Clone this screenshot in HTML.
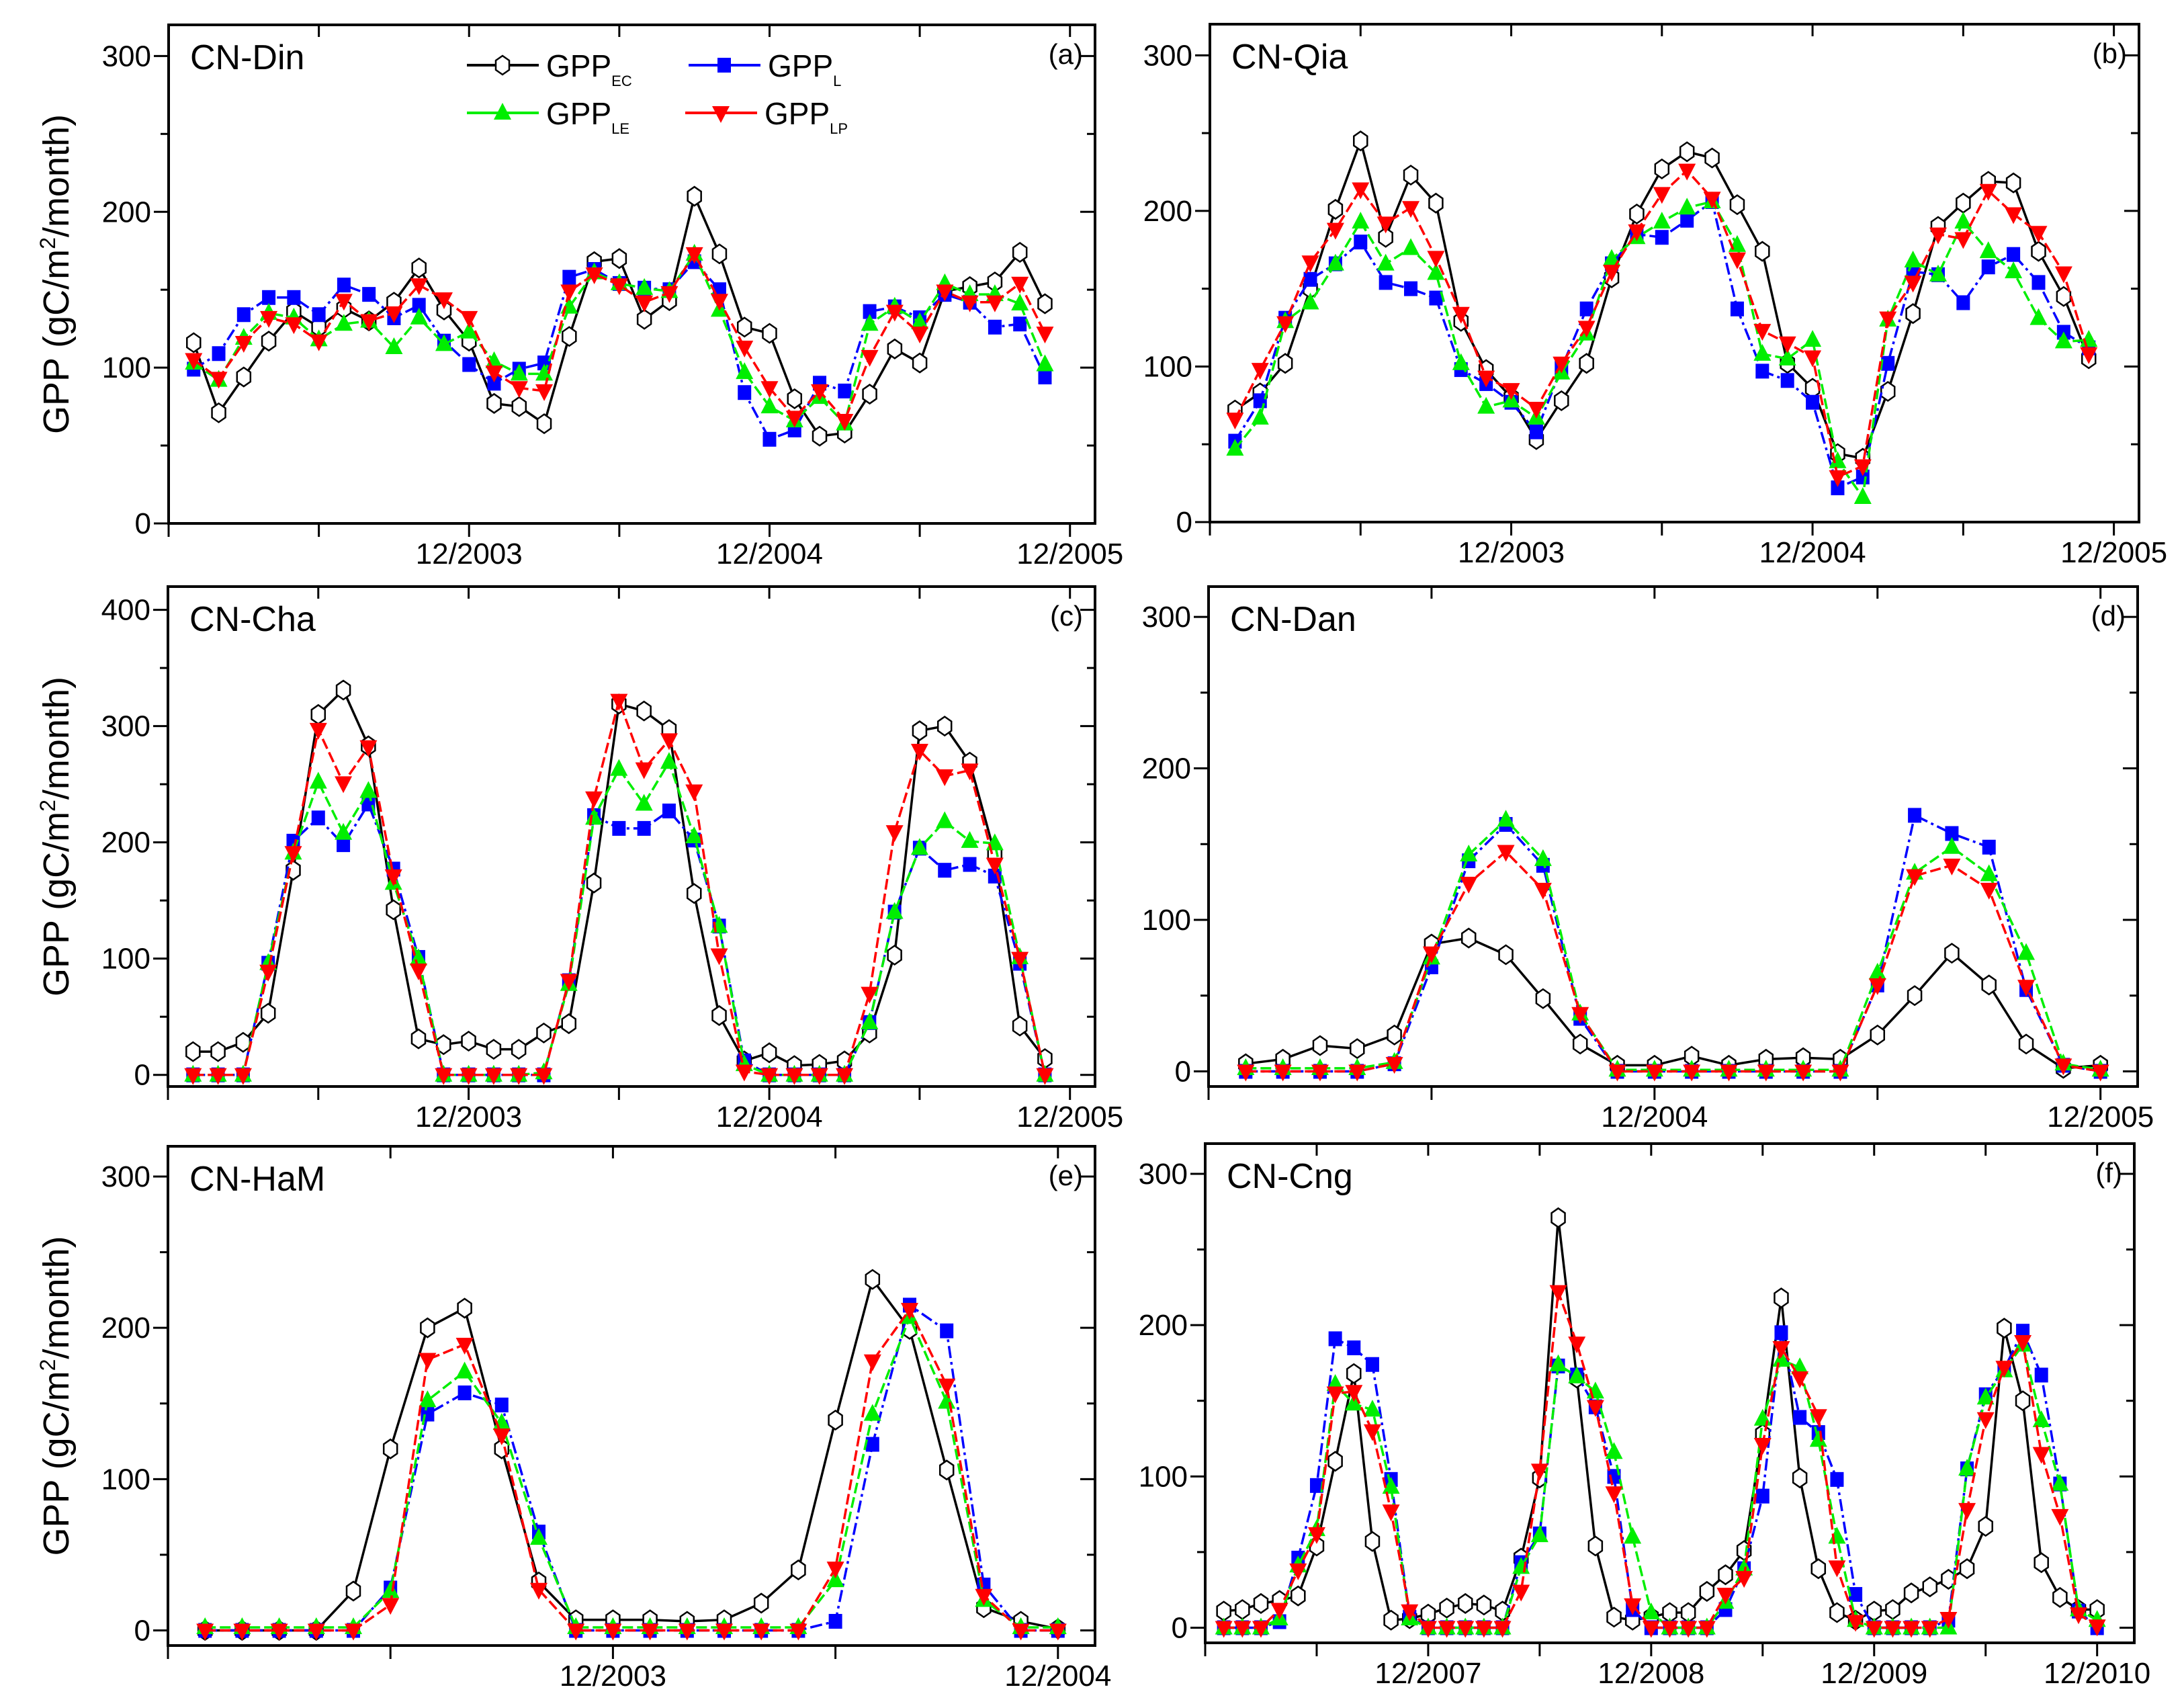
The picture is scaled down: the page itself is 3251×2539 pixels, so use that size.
<!DOCTYPE html>
<html><head><meta charset="utf-8"><style>
html,body{margin:0;padding:0;background:#fff;}
svg{display:block;}
text{font-family:"Liberation Sans Narrow","Liberation Sans",sans-serif;fill:#000;}
</style></head><body>
<svg id="chart" xmlns="http://www.w3.org/2000/svg" width="3251" height="2539" viewBox="0 0 3251 2539"></svg>
<script>
// ---- data (GPP, gC/m2/month) ----
const aEC=[116,71,94,117,136,126,138,130,142,164,137,117,77,75,64,120,168,170,131,143,210,173,126,122,80,56,58,83,112,103,149,152,155,174,141];
const aL =[99,109,134,145,145,134,153,147,132,140,117,102,90,99,103,158,163,154,151,150,168,150,84,54,60,90,85,136,139,132,147,142,126,128,94];
const aLE=[103,92,119,135,132,118,128,130,113,132,115,123,104,96,96,139,161,154,151,149,173,137,97,75,66,81,64,128,139,129,154,147,147,141,102];
const aLP=[105,93,116,132,128,117,143,130,135,153,144,132,97,87,85,149,160,153,142,148,173,143,113,87,68,85,66,107,136,122,149,142,142,154,122];
const bEC=[72,83,102,150,201,245,183,223,205,129,98,80,53,78,102,157,198,227,238,234,204,174,102,86,44,41,84,134,190,205,219,218,174,145,105];
const bL =[52,78,131,156,166,180,154,150,144,98,89,77,58,99,137,166,185,183,194,206,137,97,91,77,22,29,102,161,159,141,164,172,154,122,112];
const bLE=[47,67,129,141,166,193,166,176,160,102,74,78,67,96,121,169,183,193,202,206,178,108,105,117,39,16,130,168,159,193,174,161,131,116,117];
const bLP=[66,98,128,167,188,214,192,202,170,134,93,85,73,102,125,161,187,211,226,208,169,123,115,106,29,36,131,154,185,182,213,198,186,160,108];
const cEC=[20,20,28,53,176,310,331,283,142,31,26,29,22,22,36,44,165,319,313,297,156,51,12,19,8,9,12,36,103,296,300,269,190,42,14];
const cL =[0,0,0,96,201,221,198,233,177,101,0,0,0,0,0,81,223,212,212,227,202,128,12,0,0,0,0,45,140,195,176,181,171,96,0];
const cLE=[0,0,0,96,191,252,208,244,165,100,0,0,0,0,2,78,221,263,233,269,205,128,9,0,0,0,0,45,140,195,218,201,199,101,0];
const cLP=[0,0,0,89,191,297,251,282,171,90,0,0,0,0,0,81,238,322,263,288,244,103,3,0,0,0,0,70,209,279,257,262,181,100,0];
const dEC=[5,8,17,15,24,84,88,77,48,18,4,4,10,4,8,9,8,24,50,78,57,18,2,4];
const dL =[0,0,0,0,5,69,139,163,136,35,0,0,0,0,0,0,0,57,169,157,148,54,4,0];
const dLE=[2,2,2,2,6,75,143,166,140,38,1,1,1,1,1,1,1,65,131,148,130,78,5,1];
const dLP=[0,0,0,0,5,78,124,145,120,38,0,0,0,0,0,0,0,57,129,136,120,56,4,0];
const eEC=[0,0,0,0,26,120,200,213,120,32,7,7,7,6,7,18,40,139,232,199,106,15,6,1];
const eL =[0,0,0,0,0,28,143,157,149,65,0,0,0,0,0,0,0,6,123,215,198,30,0,0];
const eLE=[2,2,2,2,2,26,152,171,137,61,2,2,2,2,2,2,2,33,143,207,151,20,2,2];
const eLP=[0,0,0,0,0,17,179,189,129,27,0,0,0,0,0,0,0,41,178,212,162,23,0,0];
const fEC=[11,12,16,18,21,54,110,168,57,5,6,9,13,16,15,11,46,99,271,165,54,7,5,7,10,10,24,35,51,128,218,99,39,10,5,11,12,23,27,32,39,67,198,150,43,20,12,12];
const fL =[0,0,0,4,46,94,191,185,174,98,7,0,0,0,0,0,43,62,173,167,146,100,12,0,0,0,0,12,39,87,195,139,129,98,22,0,0,0,0,5,105,154,171,196,167,95,11,0];
const fLE=[0,0,0,6,41,65,161,148,144,93,6,0,0,0,0,0,40,61,174,166,156,116,60,10,0,0,0,17,39,138,177,172,124,60,5,0,0,0,0,0,105,152,170,187,137,95,12,5];
const fLP=[0,0,0,12,38,62,155,156,130,77,11,0,0,0,0,0,24,104,222,188,146,89,15,0,0,0,0,22,33,121,185,165,140,40,4,0,0,0,0,6,78,138,172,189,115,74,9,1];
const yTicksA=[0,100,200,300];
const yTicksC=[0,100,200,300,400];
const xLabels3=["12/2003","12/2004","12/2005"];
const xLabels2=["12/2004","12/2005"];
const xLabelsE=["12/2003","12/2004"];
const xLabelsF=["12/2007","12/2008","12/2009","12/2010"];
const sites=["CN-Din","CN-Qia","CN-Cha","CN-Dan","CN-HaM","CN-Cng"];
const letters=["(a)","(b)","(c)","(d)","(e)","(f)"];

const NS="http://www.w3.org/2000/svg";
const svg=document.getElementById('chart');
function mk(tag,attrs,parent){const e=document.createElementNS(NS,tag);for(const k in attrs)e.setAttribute(k,attrs[k]);(parent||svg).appendChild(e);return e;}

const panels=[
 {L:251,R:1630,T:37,B:779,x0:-1,x1:36,y0:0,y1:320,yt:yTicksA,minor:50,lab:xLabels3,labIdx:[11,23,35],tickStep:6,ser:[aEC,aL,aLE,aLP],title:true},
 {L:1801,R:3184,T:36,B:777,x0:-1,x1:36,y0:0,y1:320,yt:yTicksA,minor:50,lab:xLabels3,labIdx:[11,23,35],tickStep:6,ser:[bEC,bL,bLE,bLP]},
 {L:250,R:1630,T:873,B:1617,x0:-1,x1:36,y0:-10,y1:420,yt:yTicksC,minor:50,lab:xLabels3,labIdx:[11,23,35],tickStep:6,ser:[cEC,cL,cLE,cLP],title:true},
 {L:1799,R:3182,T:873,B:1617,x0:-1,x1:24,y0:-10,y1:320,yt:yTicksA,minor:50,lab:xLabels2,labIdx:[11,23],tickStep:6,ser:[dEC,dL,dLE,dLP]},
 {L:250,R:1630,T:1706,B:2449,x0:-1,x1:24,y0:-10,y1:320,yt:yTicksA,minor:50,lab:xLabelsE,labIdx:[11,23],tickStep:6,ser:[eEC,eL,eLE,eLP],title:true},
 {L:1794,R:3177,T:1702,B:2445,x0:-1,x1:49,y0:-10,y1:320,yt:yTicksA,minor:50,lab:xLabelsF,labIdx:[11,23,35,47],tickStep:6,ser:[fEC,fL,fLE,fLP]}
];
const colors=["#000","#0000ff","#00ee00","#ff0000"];
const dashes=["none","18,6,4,6","16,6","16,6"];
const serNames=["gpp-ec","gpp-l","gpp-le","gpp-lp"];

function marker(g,k,x,y){
  let m;
  if(k===0){const w=10,h=14;m=mk('polygon',{points:`${x},${y-h} ${x+w},${y-h/2} ${x+w},${y+h/2} ${x},${y+h} ${x-w},${y+h/2} ${x-w},${y-h/2}`,fill:'#fff',stroke:'#000','stroke-width':2.5},g);}
  else if(k===1){m=mk('rect',{x:x-10,y:y-11,width:20,height:22,fill:'#0000ff'},g);}
  else if(k===2){m=mk('polygon',{points:`${x},${y-15} ${x+13},${y+10} ${x-13},${y+10}`,fill:'#00ee00'},g);}
  else {m=mk('polygon',{points:`${x},${y+15} ${x+13},${y-10} ${x-13},${y-10}`,fill:'#ff0000'},g);}
  return m;
}

panels.forEach((p,pi)=>{
  const g=mk('g',{});
  
  
  const sx=v=>p.L+(v-p.x0)/(p.x1-p.x0)*(p.R-p.L);
  const sy=v=>p.B-(v-p.y0)/(p.y1-p.y0)*(p.B-p.T);
  p.ser.forEach((arr,k)=>{
    const sg=mk('g',{},g);
    
    
    const pts=arr.map((v,i)=>sx(i).toFixed(1)+','+sy(v).toFixed(1)).join(' ');
    const ln=mk('polyline',{points:pts,fill:'none',stroke:colors[k],'stroke-width':3.5,'stroke-dasharray':dashes[k]},sg);
    
    
    arr.forEach((v,i)=>{const m=marker(sg,k,sx(i),sy(v));
      
      });
  });
  const fr=mk('rect',{x:p.L,y:p.T,width:p.R-p.L,height:p.B-p.T,fill:'none',stroke:'#000','stroke-width':4},g);
  
  
  for(let v=Math.ceil(p.y0/p.minor)*p.minor;v<=p.y1;v+=p.minor){
    const y=sy(v);const major=p.yt.includes(v);
    mk('line',{x1:p.L-(major?22:12),x2:p.L,y1:y,y2:y,stroke:'#000','stroke-width':3},g);
    mk('line',{x1:p.R,x2:p.R-(major?22:12),y1:y,y2:y,stroke:'#000','stroke-width':3},g);
  }
  p.yt.forEach(v=>{const t=mk('text',{x:p.L-26,y:sy(v)+15,'text-anchor':'end','font-size':44},g);t.textContent=v;
    
    });
  for(let i=-1;i<=p.x1;i+=p.tickStep){
    const x=sx(i);
    mk('line',{x1:x,x2:x,y1:p.B,y2:p.B+20,stroke:'#000','stroke-width':3},g);
    mk('line',{x1:x,x2:x,y1:p.T,y2:p.T+18,stroke:'#000','stroke-width':3},g);
  }
  p.lab.forEach((s,j)=>{const t=mk('text',{x:sx(p.labIdx[j]),y:p.B+60,'text-anchor':'middle','font-size':44},g);t.textContent=s;
    
    });
  const st=mk('text',{x:p.L+32,y:p.T+66,'font-size':52},g);st.textContent=sites[pi];
  
  
  const lt=mk('text',{x:p.R-18,y:p.T+58,'text-anchor':'end','font-size':42},g);lt.textContent=letters[pi];
  
  
  if(p.title){
    const cy=(p.T+p.B)/2;
    const t=mk('text',{x:0,y:0,'text-anchor':'middle','font-size':54,transform:`translate(102,${cy}) rotate(-90)`,style:'font-family:"Liberation Sans",sans-serif'},g);
    
    
    t.appendChild(document.createTextNode('GPP (gC/m'));
    const sup=mk('tspan',{'font-size':32,dy:-20},t);sup.textContent='2';
    const rest=mk('tspan',{dy:20},t);rest.textContent='/month)';
  }
});

const legend=mk('g',{});


const legPos=[[695,97,"EC"],[1025,97,"L"],[695,168,"LE"],[1020,168,"LP"]];
legPos.forEach((q,k)=>{
  const eg=mk('g',{},legend);
  
  
  mk('line',{x1:q[0],x2:q[0]+107,y1:q[1],y2:q[1],stroke:colors[k],'stroke-width':4},eg);
  marker(eg,k,q[0]+53,q[1]);
  const t=mk('text',{x:q[0]+118,y:q[1]+17,'font-size':46,style:'font-family:"Liberation Sans",sans-serif'},eg);
  t.appendChild(document.createTextNode('GPP'));
  const s=mk('tspan',{'font-size':22,dy:14},t);s.textContent=q[2];
});
</script>
</body></html>
